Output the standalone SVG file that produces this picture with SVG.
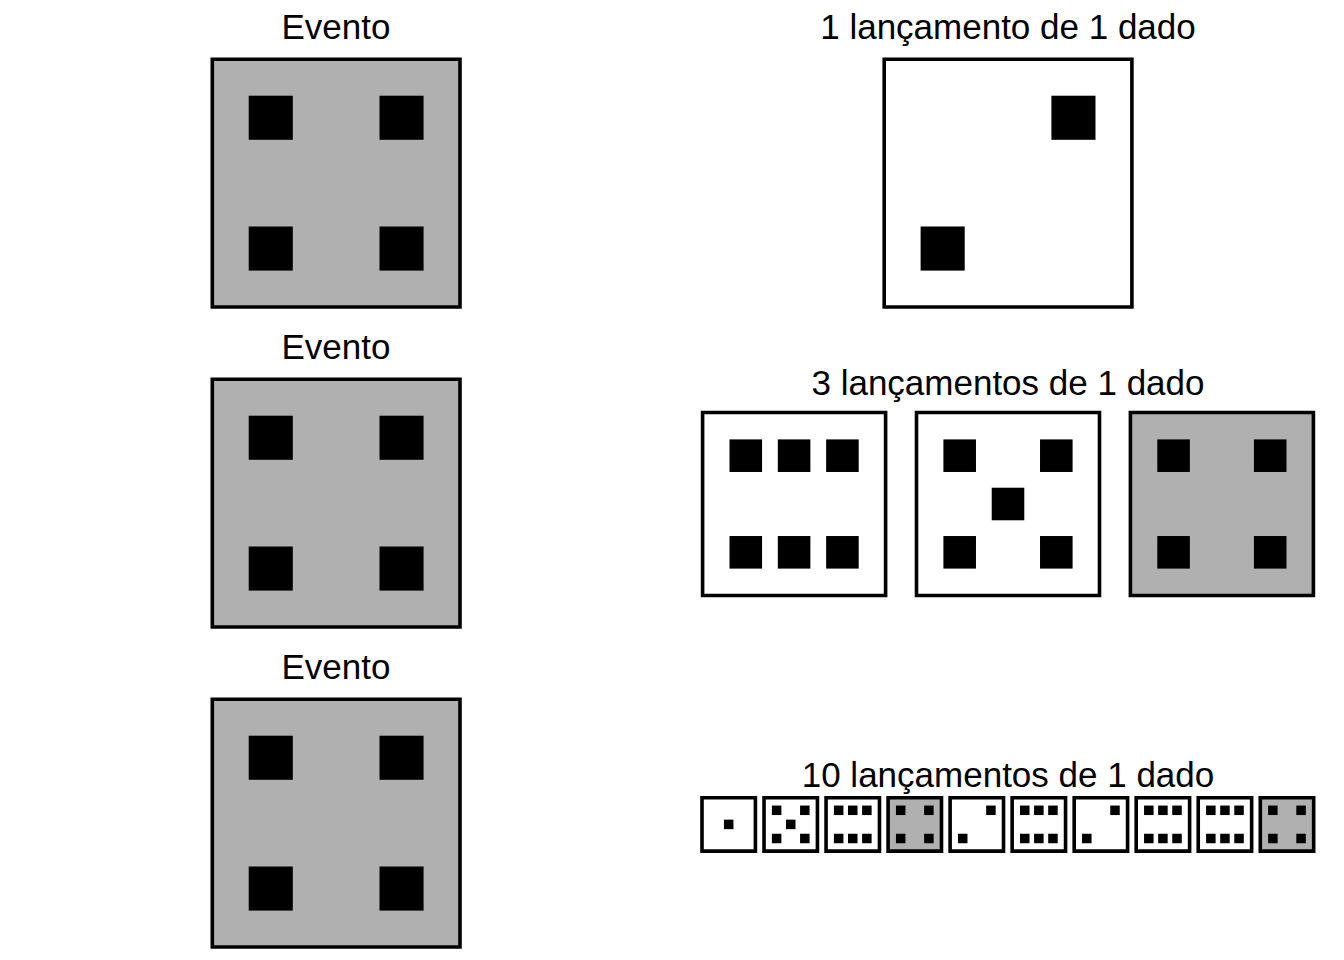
<svg xmlns="http://www.w3.org/2000/svg" xmlns:xlink="http://www.w3.org/1999/xlink" width="1344" height="960" viewBox="0 0 1344 960">
<style>
.t{font-family:"Liberation Sans",Arial,sans-serif;font-size:35px;fill:#000;text-anchor:middle}
.w{fill:#fff;stroke:#000;stroke-width:3.6;vector-effect:non-scaling-stroke}
.g{fill:#b0b0b0;stroke:#000;stroke-width:3.6;vector-effect:non-scaling-stroke}
.p{fill:#000}
</style>
<defs>
<g id="f1" class="p"><rect x="41.1" y="41.1" width="17.8" height="17.8"/></g>
<g id="f2" class="p"><rect x="67.5" y="14.7" width="17.8" height="17.8"/><rect x="14.7" y="67.5" width="17.8" height="17.8"/></g>
<g id="f4" class="p"><rect x="14.7" y="14.7" width="17.8" height="17.8"/><rect x="67.5" y="14.7" width="17.8" height="17.8"/><rect x="14.7" y="67.5" width="17.8" height="17.8"/><rect x="67.5" y="67.5" width="17.8" height="17.8"/></g>
<g id="f5" class="p"><use xlink:href="#f4"/><rect x="41.1" y="41.1" width="17.8" height="17.8"/></g>
<g id="f6" class="p"><rect x="14.7" y="14.7" width="17.8" height="17.8"/><rect x="41.1" y="14.7" width="17.8" height="17.8"/><rect x="67.5" y="14.7" width="17.8" height="17.8"/><rect x="14.7" y="67.5" width="17.8" height="17.8"/><rect x="41.1" y="67.5" width="17.8" height="17.8"/><rect x="67.5" y="67.5" width="17.8" height="17.8"/></g>
</defs>
<rect width="1344" height="960" fill="#fff"/>

<g id="evento1">
<text class="t" x="336" y="39">Evento</text>
<g transform="translate(212.3 59.3) scale(2.477)"><rect class="g" width="100" height="100"/><use xlink:href="#f4"/></g>
</g>
<g id="evento2">
<text class="t" x="336" y="359">Evento</text>
<g transform="translate(212.3 379.3) scale(2.477)"><rect class="g" width="100" height="100"/><use xlink:href="#f4"/></g>
</g>
<g id="evento3">
<text class="t" x="336" y="679">Evento</text>
<g transform="translate(212.3 699.3) scale(2.477)"><rect class="g" width="100" height="100"/><use xlink:href="#f4"/></g>
</g>

<g id="lancamento1">
<text class="t" x="1008" y="39">1 lançamento de 1 dado</text>
<g transform="translate(884.2 59.3) scale(2.477)"><rect class="w" width="100" height="100"/><use xlink:href="#f2"/></g>
</g>

<g id="lancamentos3">
<text class="t" x="1008" y="395">3 lançamentos de 1 dado</text>
<g transform="translate(702.6 412.5) scale(1.83)"><rect class="w" width="100" height="100"/><use xlink:href="#f6"/></g>
<g transform="translate(916.5 412.5) scale(1.83)"><rect class="w" width="100" height="100"/><use xlink:href="#f5"/></g>
<g transform="translate(1130.4 412.5) scale(1.83)"><rect class="g" width="100" height="100"/><use xlink:href="#f4"/></g>
</g>

<g id="lancamentos10">
<text class="t" x="1008" y="787">10 lançamentos de 1 dado</text>
<g transform="translate(702 797.7) scale(0.534)"><rect class="w" width="100" height="100"/><use xlink:href="#f1"/></g>
<g transform="translate(764.03 797.7) scale(0.534)"><rect class="w" width="100" height="100"/><use xlink:href="#f5"/></g>
<g transform="translate(826.06 797.7) scale(0.534)"><rect class="w" width="100" height="100"/><use xlink:href="#f6"/></g>
<g transform="translate(888.09 797.7) scale(0.534)"><rect class="g" width="100" height="100"/><use xlink:href="#f4"/></g>
<g transform="translate(950.12 797.7) scale(0.534)"><rect class="w" width="100" height="100"/><use xlink:href="#f2"/></g>
<g transform="translate(1012.15 797.7) scale(0.534)"><rect class="w" width="100" height="100"/><use xlink:href="#f6"/></g>
<g transform="translate(1074.18 797.7) scale(0.534)"><rect class="w" width="100" height="100"/><use xlink:href="#f2"/></g>
<g transform="translate(1136.21 797.7) scale(0.534)"><rect class="w" width="100" height="100"/><use xlink:href="#f6"/></g>
<g transform="translate(1198.24 797.7) scale(0.534)"><rect class="w" width="100" height="100"/><use xlink:href="#f6"/></g>
<g transform="translate(1260.27 797.7) scale(0.534)"><rect class="g" width="100" height="100"/><use xlink:href="#f4"/></g>
</g>
</svg>
